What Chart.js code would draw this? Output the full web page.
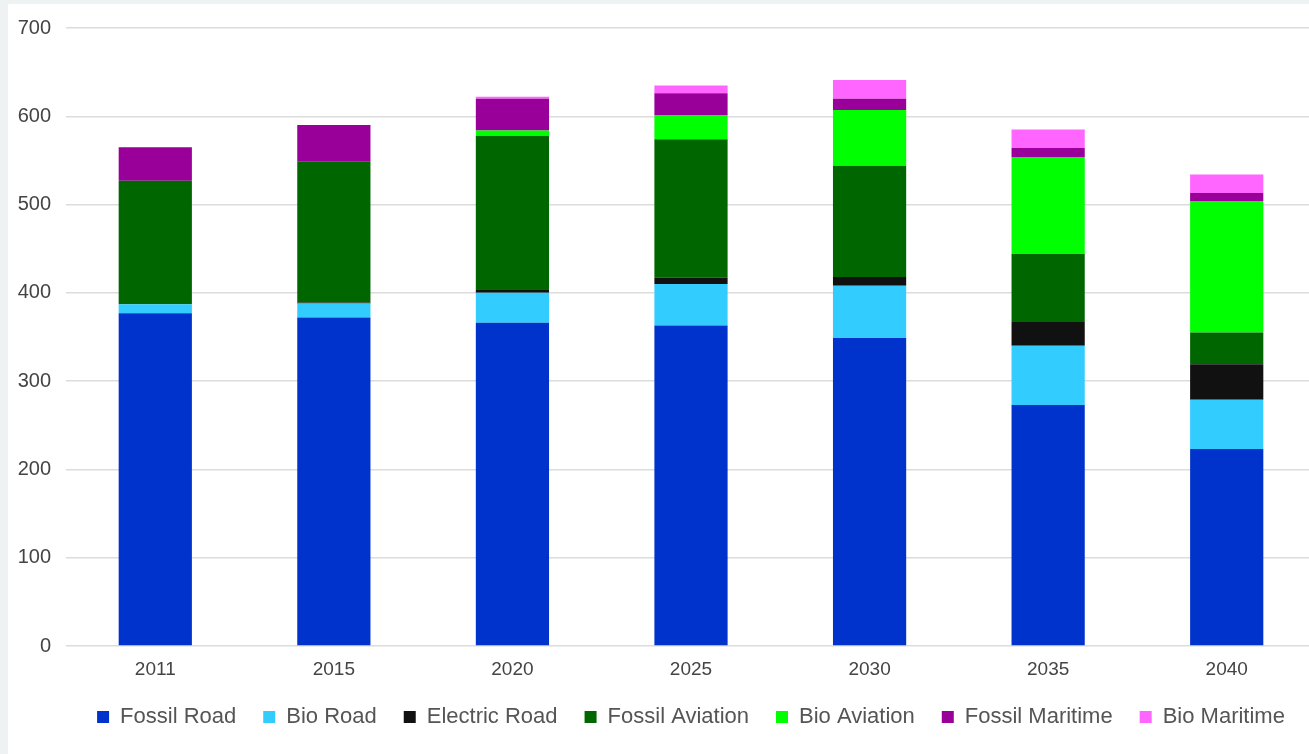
<!DOCTYPE html>
<html>
<head>
<meta charset="utf-8">
<title>Transport energy by mode</title>
<script src="https://cdn.jsdelivr.net/npm/chart.js@4/dist/chart.umd.min.js"></script>
<style>
   html, body { margin: 0; padding: 0; overflow: hidden; background: #eff2f2; }
   #panel { position: absolute; left: 8px; top: 4px; width: 1320px; height: 760px; background: #fff; }
   #myChart { position: absolute; left: 8px; top: 1px; }
</style>
</head>
<body>
<div id="panel"></div>
<canvas id="myChart" width="1308" height="753"></canvas>
<script>
'use strict';

/***** DATA *****/
var years = ['2011', '2015', '2020', '2025', '2030', '2035', '2040'];
var fossilRoad     = [377, 372, 366, 363, 349, 273, 223];
var bioRoad        = [10, 16, 34, 47, 59, 67, 56];
var electricRoad   = [0, 1, 4, 7, 10, 27, 40];
var fossilAviation = [140, 160, 174, 157, 126, 77, 36];
var bioAviation    = [0, 0, 6, 27, 63, 110, 149];
var fossilMaritime = [38, 41, 36, 25, 13, 10, 9];
var bioMaritime    = [0, 0, 2, 9, 21, 21, 21];
var yTicks = [0, 100, 200, 300, 400, 500, 600, 700];

/***** CHART *****/
(function () {
   var ctx = document.getElementById('myChart');
   var font = 'Liberation Sans, Arial, sans-serif';

   function series (label, data, color) {
      return { label: label, data: data, backgroundColor: color, borderWidth: 0 };
   }

   var data = {
      labels: years,
      datasets: [
         series('Fossil Road', fossilRoad, '#0033cc'),
         series('Bio Road', bioRoad, '#33ccff'),
         series('Electric Road', electricRoad, '#111111'),
         series('Fossil Aviation', fossilAviation, '#006600'),
         series('Bio Aviation', bioAviation, '#00ff00'),
         series('Fossil Maritime', fossilMaritime, '#990099'),
         series('Bio Maritime', bioMaritime, '#ff66ff')
      ]
   };

   new Chart(ctx, {
      type: 'bar',
      data: data,
      options: {
         responsive: false,
         animation: false,
         layout: { padding: { top: 0, right: 0, bottom: 16, left: 0 } },
         datasets: { bar: { categoryPercentage: 1, barPercentage: 0.41 } },
         plugins: {
            tooltip: { enabled: false },
            legend: {
               position: 'bottom',
               fullSize: false, // legend centred under the plot area only
               labels: {
                  boxWidth: 12,
                  boxHeight: 12,
                  padding: 27,
                  color: '#555',
                  font: { family: font, size: 22 }
               }
            }
         },
         scales: {
            x: {
               stacked: true,
               grid: { display: false, drawTicks: false },
               border: { display: false },
               ticks: { color: '#444', padding: 12.5, font: { family: font, size: 19 } },
               afterFit: function (s) { s.height = 33; }
            },
            y: {
               stacked: true,
               min: 0,
               max: 700,
               afterBuildTicks: function (s) {
                  s.ticks = yTicks.map(function (v) { return { value: v }; });
               },
               afterFit: function (s) { s.width = 58; },
               grid: { color: '#dcdcdc', lineWidth: 1.5, drawTicks: false },
               border: { display: false },
               ticks: { color: '#444', padding: 15, font: { family: font, size: 20 } }
            }
         }
      }
   });
})();
</script>
</body>
</html>
